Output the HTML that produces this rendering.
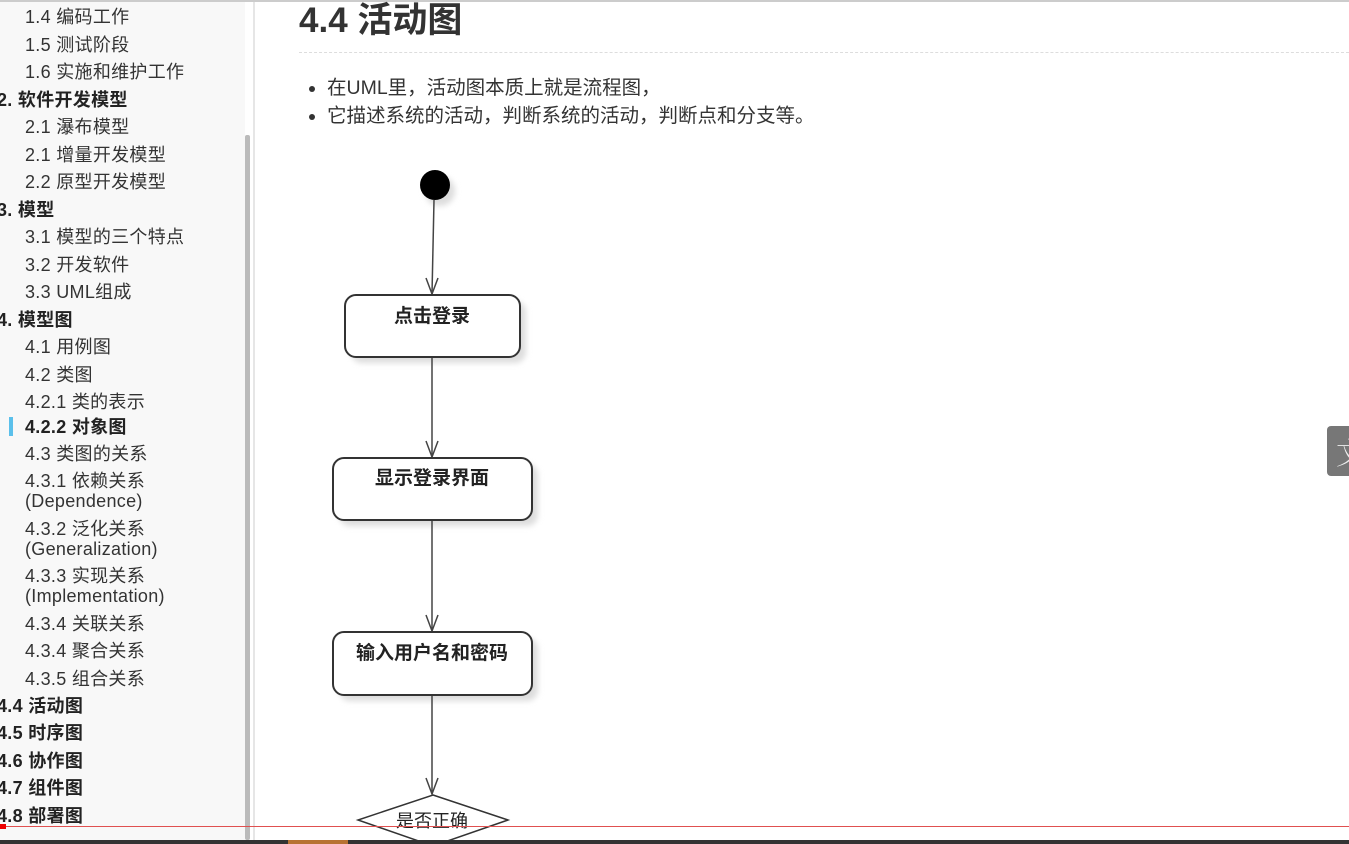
<!DOCTYPE html>
<html><head><meta charset="utf-8"><style>
body{margin:0;width:1349px;height:844px;overflow:hidden;background:#fff;font-family:"Liberation Sans","Noto Sans CJK SC",sans-serif;position:relative;color:#333}
#side{position:absolute;left:0;top:0;width:245px;height:844px;background:#f8f8f8}
.it{position:absolute;left:25px;font-size:18px;color:#333;white-space:nowrap;line-height:20px;letter-spacing:0.3px}
.b{left:-3px;font-weight:bold;color:#222}
#sb{position:absolute;left:245px;top:135px;width:5px;height:705px;background:#bbb;border-radius:2px}
#bd{position:absolute;left:253px;top:0;width:2px;height:844px;background:#e6e6e6}
h1{position:absolute;left:299px;top:0;margin:0;font-size:35px;line-height:42px;color:#333}
#hr{position:absolute;left:299px;top:52px;width:1050px;border-top:1px dashed #ddd}
ul{position:absolute;left:306px;top:74px;margin:0;padding-left:21px;font-size:19.5px;line-height:28px;color:#333}
</style></head><body>
<div id="side">
<div class="it" style="top:7px">1.4 编码工作</div>
<div class="it" style="top:35px">1.5 测试阶段</div>
<div class="it" style="top:62px">1.6 实施和维护工作</div>
<div class="it b" style="top:90px">2. 软件开发模型</div>
<div class="it" style="top:117px">2.1 瀑布模型</div>
<div class="it" style="top:145px">2.1 增量开发模型</div>
<div class="it" style="top:172px">2.2 原型开发模型</div>
<div class="it b" style="top:200px">3. 模型</div>
<div class="it" style="top:227px">3.1 模型的三个特点</div>
<div class="it" style="top:255px">3.2 开发软件</div>
<div class="it" style="top:282px">3.3 UML组成</div>
<div class="it b" style="top:310px">4. 模型图</div>
<div class="it" style="top:337px">4.1 用例图</div>
<div class="it" style="top:365px">4.2 类图</div>
<div class="it" style="top:392px">4.2.1 类的表示</div>
<div style="position:absolute;left:9px;top:417px;width:4px;height:19px;background:#5bc0eb"></div>
<div class="it" style="top:417px;font-weight:bold;color:#222">4.2.2 对象图</div>
<div class="it" style="top:444px">4.3 类图的关系</div>
<div class="it" style="top:471px">4.3.1 依赖关系<br>(Dependence)</div>
<div class="it" style="top:519px">4.3.2 泛化关系<br>(Generalization)</div>
<div class="it" style="top:566px">4.3.3 实现关系<br>(Implementation)</div>
<div class="it" style="top:614px">4.3.4 关联关系</div>
<div class="it" style="top:641px">4.3.4 聚合关系</div>
<div class="it" style="top:669px">4.3.5 组合关系</div>
<div class="it b" style="top:696px">4.4 活动图</div>
<div class="it b" style="top:723px">4.5 时序图</div>
<div class="it b" style="top:751px">4.6 协作图</div>
<div class="it b" style="top:778px">4.7 组件图</div>
<div class="it b" style="top:806px">4.8 部署图</div>
</div>
<div id="sb"></div><div id="bd"></div>
<div style="position:absolute;left:0;top:0;width:1349px;height:2px;background:#ccc"></div>
<h1>4.4 活动图</h1>
<div id="hr"></div>
<ul><li>在UML里，活动图本质上就是流程图，</li><li>它描述系统的活动，判断系统的活动，判断点和分支等。</li></ul>
<svg style="position:absolute;left:0;top:0" width="1349" height="844">
<defs><filter id="s"><feGaussianBlur stdDeviation="3"/></filter></defs>
<g fill="#ddd" filter="url(#s)">
<circle cx="440" cy="191" r="15"/>
<rect x="351" y="301" width="175" height="62" rx="11"/>
<rect x="339" y="464" width="199" height="62" rx="11"/>
<rect x="339" y="638" width="199" height="63" rx="11"/>
</g>
<circle cx="435" cy="185" r="15" fill="#000"/>
<g stroke="#444" stroke-width="1.5" fill="none">
<line x1="434" y1="200" x2="432" y2="294"/><polyline points="426,278 432,294 438,278"/>
<line x1="432" y1="358" x2="432" y2="457"/><polyline points="426,441 432,457 438,441"/>
<line x1="432" y1="521" x2="432" y2="631"/><polyline points="426,615 432,631 438,615"/>
<line x1="432" y1="696" x2="432" y2="794"/><polyline points="426,778 432,794 438,778"/>
</g>
<g stroke="#333" stroke-width="2" fill="#fff">
<rect x="345" y="295" width="175" height="62" rx="11"/>
<rect x="333" y="458" width="199" height="62" rx="11"/>
<rect x="333" y="632" width="199" height="63" rx="11"/>
<polygon points="433,795 508,820 433,846 358,820" stroke-width="1.5"/>
</g>
<g font-family="Liberation Sans,Noto Sans CJK SC,sans-serif" font-size="19" font-weight="bold" fill="#222" text-anchor="middle">
<text x="432" y="322">点击登录</text>
<text x="432" y="484">显示登录界面</text>
<text x="432" y="659">输入用户名和密码</text>
<text x="432" y="827" font-weight="normal" font-size="18">是否正确</text>
</g>
<line x1="0" y1="826.5" x2="1349" y2="826.5" stroke="#e05050" stroke-width="1"/>
<rect x="0" y="824" width="6" height="5" fill="#e00"/>
<rect x="0" y="840" width="1349" height="4" fill="#333"/>
<rect x="288" y="840" width="60" height="4" fill="#b87333"/>
<rect x="1327" y="426" width="30" height="50" rx="4" fill="#777"/>
<text x="1336" y="464" font-size="30" fill="#eee" font-family="Noto Serif CJK SC,serif">文</text>
</svg>
</body></html>
